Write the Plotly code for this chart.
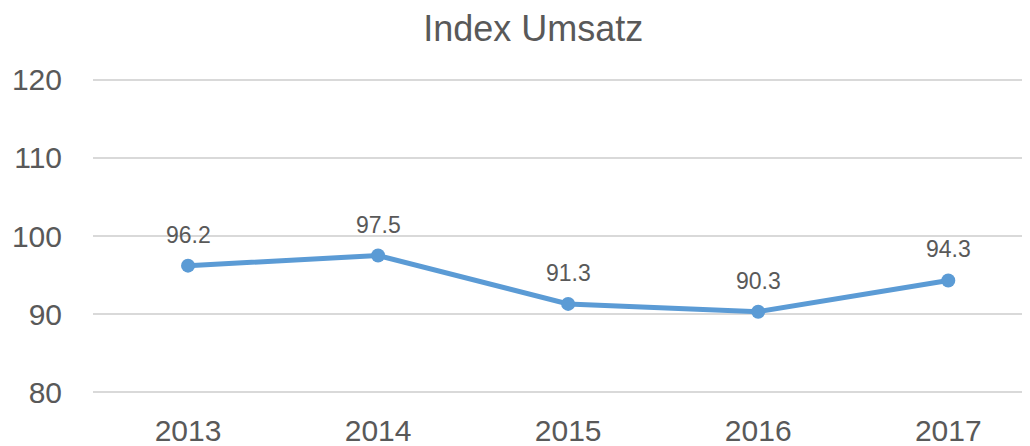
import plotly.graph_objects as go

years = ["2013", "2014", "2015", "2016", "2017"]
umsatz_index = [96.2, 97.5, 91.3, 90.3, 94.3]
y_ticks = [80, 90, 100, 110, 120]

grey = "#595959"
blue = "#5B9BD5"
font = "Arial, Liberation Sans, sans-serif"

xs = list(range(len(years)))

fig = go.Figure()
fig.add_trace(go.Scatter(
    x=xs, y=umsatz_index,
    mode="lines+markers",
    line=dict(color=blue, width=5),
    marker=dict(color=blue, size=14),
    showlegend=False,
    hoverinfo="skip",
))

# data labels above the points
for x, v in zip(xs, umsatz_index):
    fig.add_annotation(x=x, y=v, text=f"{v:.1f}", showarrow=False,
                       yshift=31, yanchor="middle",
                       font=dict(family=font, size=23, color=grey))

# page body has an 8px margin, so the figure is a bit smaller than the window
fig.update_layout(
    width=1022, height=438,
    margin=dict(l=85, r=0, t=68, b=50),
    paper_bgcolor="white", plot_bgcolor="white",
    title=dict(text="Index Umsatz", x=0.514, xanchor="center", y=0.953, yanchor="middle",
               font=dict(family=font, size=36, color=grey)),
    xaxis=dict(
        range=[-0.5, 4.43],
        tickmode="array", tickvals=xs, ticktext=years,
        showgrid=False, zeroline=False, showline=False,
        ticks="outside", ticklen=8, tickcolor="rgba(0,0,0,0)",
        tickfont=dict(family=font, size=30, color=grey),
    ),
    yaxis=dict(
        range=[79.5, 120.5],
        tickmode="array", tickvals=y_ticks,
        showgrid=True, gridcolor="#D9D9D9", gridwidth=2,
        zeroline=False, showline=False,
        ticks="outside", ticklen=24, tickcolor="rgba(0,0,0,0)",
        tickfont=dict(family=font, size=30, color=grey),
    ),
)

fig.write_html("out.html")
